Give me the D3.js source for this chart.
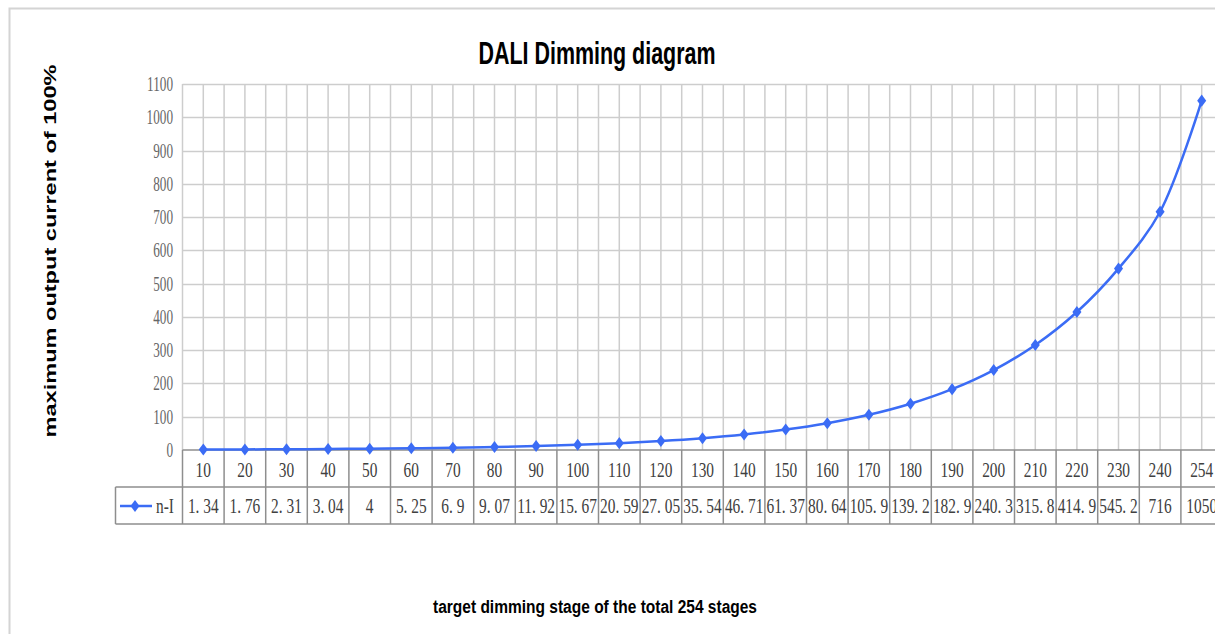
<!DOCTYPE html>
<html>
<head>
<meta charset="utf-8">
<script src="https://cdn.jsdelivr.net/npm/d3@7"></script>
<style>
  body { margin: 0; background: #fff; }
  svg { display: block; }
</style>
</head>
<body>
<svg id="chart" width="1215" height="634"></svg>
<script>
var categories = [10, 20, 30, 40, 50, 60, 70, 80, 90, 100, 110, 120, 130, 140, 150, 160, 170, 180, 190, 200, 210, 220, 230, 240, 254];
var values = [1.34, 1.76, 2.31, 3.04, 4, 5.25, 6.9, 9.07, 11.92, 15.67, 20.59, 27.05, 35.54, 46.71, 61.37, 80.64, 105.9, 139.2, 182.9, 240.3, 315.8, 414.9, 545.2, 716, 1050];
var yTicks = [0, 100, 200, 300, 400, 500, 600, 700, 800, 900, 1000, 1100];
var seriesName = 'n-I';

var blue = '#3b6cf5';
var grid = '#cdcdcd';
var dark = '#8e8e8e';

var svg = d3.select('#chart');
svg.append('rect').attr('width', 1215).attr('height', 634).attr('fill', '#fff');

// chart frame
svg.append('path')
    .attr('d', 'M9.5,640 L9.5,8.5 L1220,8.5')
    .attr('fill', 'none')
    .attr('stroke', '#d4d4d4')
    .attr('stroke-width', 2);

var plotLeft = 182.5, plotTop = 84, plotBottom = 450;
var band = 41.6;
var x = d3.scaleBand().domain(categories).range([plotLeft, plotLeft + band * categories.length]).padding(0);
var y = d3.scaleLinear().domain([0, 1100]).range([plotBottom, plotTop]);
var plotRight = plotLeft + band * categories.length;

var row1 = 487, row2 = 524, keyLeft = 115.5;

// horizontal gridlines
svg.append('g').selectAll('line')
    .data(yTicks.slice(1))
    .enter().append('line')
    .attr('x1', plotLeft).attr('x2', plotRight)
    .attr('y1', function(d) { return Math.round(y(d)) + 0.5; })
    .attr('y2', function(d) { return Math.round(y(d)) + 0.5; })
    .attr('stroke', grid).attr('stroke-width', 1.5);

// vertical gridlines at centers and boundaries
var vlines = [];
categories.forEach(function(c) {
    vlines.push(x(c));
    vlines.push(x(c) + x.bandwidth() / 2);
});
vlines.push(plotRight);
svg.append('g').selectAll('line')
    .data(vlines)
    .enter().append('line')
    .attr('x1', function(d) { return d; }).attr('x2', function(d) { return d; })
    .attr('y1', plotTop).attr('y2', plotBottom)
    .attr('stroke', grid).attr('stroke-width', 1.5);

// y tick labels
svg.append('g').selectAll('text')
    .data(yTicks)
    .enter().append('text')
    .attr('transform', function(d) { return 'translate(173,' + (y(d) + 7) + ') scale(0.66,1)'; })
    .attr('text-anchor', 'end')
    .attr('font-family', 'Liberation Serif')
    .attr('font-size', 20)
    .attr('fill', '#666')
    .text(function(d) { return d; });

// data table
var tbl = svg.append('g');
tbl.append('line').attr('x1', plotLeft).attr('x2', plotRight).attr('y1', plotBottom).attr('y2', plotBottom)
    .attr('stroke', dark).attr('stroke-width', 1.5);
tbl.append('line').attr('x1', keyLeft).attr('x2', plotRight).attr('y1', row1).attr('y2', row1)
    .attr('stroke', dark).attr('stroke-width', 1.5);
tbl.append('line').attr('x1', keyLeft).attr('x2', plotRight).attr('y1', row2).attr('y2', row2)
    .attr('stroke', dark).attr('stroke-width', 1.5);
tbl.append('line').attr('x1', keyLeft).attr('x2', keyLeft).attr('y1', row1).attr('y2', row2)
    .attr('stroke', dark).attr('stroke-width', 1.5);
tbl.selectAll('line.sep')
    .data(categories.map(function(c) { return x(c); }).concat([plotRight]))
    .enter().append('line')
    .attr('class', 'sep')
    .attr('x1', function(d) { return d; }).attr('x2', function(d) { return d; })
    .attr('y1', plotBottom).attr('y2', row2)
    .attr('stroke', dark).attr('stroke-width', 1.5);

tbl.selectAll('text.cat')
    .data(categories)
    .enter().append('text')
    .attr('class', 'cat')
    .attr('transform', function(d) { return 'translate(' + (x(d) + x.bandwidth() / 2) + ',477) scale(0.7,1)'; })
    .attr('text-anchor', 'middle')
    .attr('font-family', 'Liberation Serif')
    .attr('font-size', 22)
    .attr('fill', '#404040')
    .text(function(d) { return d; });

tbl.selectAll('text.val')
    .data(values)
    .enter().append('text')
    .attr('class', 'val')
    .attr('transform', function(d, i) { return 'translate(' + (x(categories[i]) + x.bandwidth() / 2) + ',513) scale(0.7,1)'; })
    .attr('text-anchor', 'middle')
    .attr('font-family', 'Liberation Serif')
    .attr('font-size', 22)
    .attr('fill', '#404040')
    .text(function(d) { return String(d).replace('.', '. '); });

// legend key in table
var diamond = d3.symbol().type(d3.symbolDiamond).size(42);
var markerScale = ' scale(1.3,1)';
tbl.append('line').attr('x1', 120).attr('x2', 152).attr('y1', 506).attr('y2', 506)
    .attr('stroke', blue).attr('stroke-width', 2.5);
tbl.append('path').attr('d', diamond()).attr('transform', 'translate(135,506)' + markerScale)
    .attr('fill', blue);
tbl.append('text')
    .attr('transform', 'translate(156,513) scale(0.7,1)')
    .attr('font-family', 'Liberation Serif')
    .attr('font-size', 22)
    .attr('fill', '#404040')
    .text(seriesName);

// series line
var seriesLine = d3.line()
    .x(function(d, i) { return x(categories[i]) + x.bandwidth() / 2; })
    .y(function(d) { return y(d); })
    .curve(d3.curveCatmullRom.alpha(0.5));

svg.append('path')
    .datum(values)
    .attr('d', seriesLine)
    .attr('fill', 'none')
    .attr('stroke', blue)
    .attr('stroke-width', 2.5);

svg.append('g').selectAll('path')
    .data(values)
    .enter().append('path')
    .attr('d', diamond())
    .attr('transform', function(d, i) {
        return 'translate(' + (x(categories[i]) + x.bandwidth() / 2) + ',' + y(d) + ')' + markerScale;
    })
    .attr('fill', blue);

// titles
svg.append('text')
    .attr('x', 597).attr('y', 64)
    .attr('text-anchor', 'middle')
    .attr('font-family', 'Liberation Sans')
    .attr('font-weight', 'bold')
    .attr('font-size', 32)
    .attr('textLength', 237)
    .attr('lengthAdjust', 'spacingAndGlyphs')
    .text('DALI Dimming diagram');

svg.append('text')
    .attr('x', 595).attr('y', 613)
    .attr('text-anchor', 'middle')
    .attr('font-family', 'Liberation Sans')
    .attr('font-weight', 'bold')
    .attr('font-size', 18)
    .attr('textLength', 324)
    .attr('lengthAdjust', 'spacingAndGlyphs')
    .text('target dimming stage of the total 254 stages');

svg.append('text')
    .attr('transform', 'translate(56,251) rotate(-90)')
    .attr('text-anchor', 'middle')
    .attr('font-family', 'Liberation Sans')
    .attr('font-weight', 'bold')
    .attr('font-size', 16)
    .attr('textLength', 373)
    .attr('lengthAdjust', 'spacingAndGlyphs')
    .text('maximum output current of 100%');
</script>
</body>
</html>
